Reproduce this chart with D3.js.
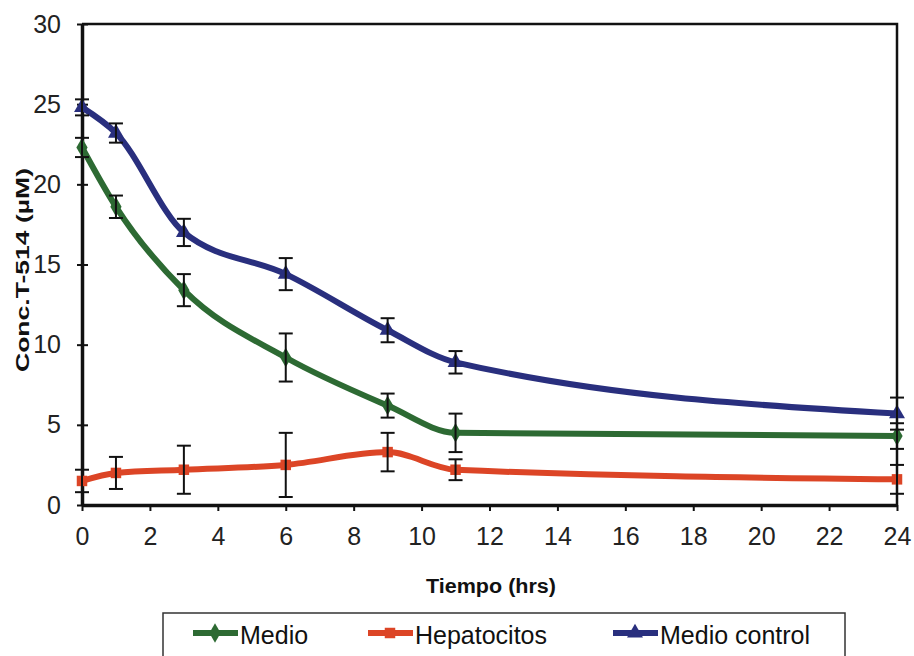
<!DOCTYPE html>
<html>
<head>
<meta charset="utf-8">
<script src="https://cdn.jsdelivr.net/npm/d3@7"></script>
<style>
  body { margin: 0; background: #fff; }
  svg { font-family: "Liberation Sans", Arial, sans-serif; }
  .axis text { font-size: 25px; fill: #222; }
  .axis path, .axis line { stroke: #111; }
</style>
</head>
<body>
<div id="chart"></div>
<script>
// Data
var tiempo = [0, 1, 3, 6, 9, 11, 24];
var medio = [22.3, 18.6, 13.4, 9.2, 6.2, 4.5, 4.3];
var medioErr = [0.6, 0.7, 1.0, 1.5, 0.75, 1.2, 0.8];
var hepatocitos = [1.5, 2.0, 2.2, 2.5, 3.3, 2.2, 1.6];
var hepatocitosErr = [0.7, 1.0, 1.5, 2.0, 1.2, 0.65, 0.9];
var medioControl = [24.8, 23.2, 17.0, 14.4, 10.9, 8.9, 5.7];
var medioControlErr = [0.5, 0.6, 0.85, 1.0, 0.75, 0.7, 1.0];

var seriesNames = ["Medio", "Hepatocitos", "Medio control"];
var xTicks = [0, 2, 4, 6, 8, 10, 12, 14, 16, 18, 20, 22, 24];
var yTicks = [0, 5, 10, 15, 20, 25, 30];

var series = [
  { name: seriesNames[0], values: medio, err: medioErr, color: "#2d6a33", marker: d3.symbolDiamond },
  { name: seriesNames[1], values: hepatocitos, err: hepatocitosErr, color: "#dc4526", marker: d3.symbolSquare },
  { name: seriesNames[2], values: medioControl, err: medioControlErr, color: "#292f7e", marker: d3.symbolTriangle }
];

var width = 914, height = 656;
var plot = { left: 82, right: 897, top: 24, bottom: 505 };

var svg = d3.select("#chart").append("svg")
  .attr("width", width)
  .attr("height", height);

var x = d3.scaleLinear().domain([0, 24]).range([plot.left, plot.right]);
var y = d3.scaleLinear().domain([0, 30]).range([plot.bottom, plot.top]);

// frame: top and right thin lines
svg.append("path")
  .attr("d", "M" + plot.left + "," + plot.top + "H" + plot.right + "V" + plot.bottom)
  .attr("fill", "none")
  .attr("stroke", "#111")
  .attr("stroke-width", 2.5);

// x axis
var xAxis = svg.append("g")
  .attr("class", "axis")
  .attr("transform", "translate(0," + plot.bottom + ")")
  .call(d3.axisBottom(x).tickValues(xTicks).tickSize(6).tickPadding(16).tickSizeOuter(0));
xAxis.select(".domain").attr("stroke-width", 3.5);
xAxis.selectAll(".tick line").attr("stroke-width", 2);

// y axis (ticks cross the axis)
var yAxis = svg.append("g")
  .attr("class", "axis")
  .attr("transform", "translate(" + plot.left + ",0)")
  .call(d3.axisLeft(y).tickValues(yTicks).tickSize(5).tickPadding(16).tickSizeOuter(0));
yAxis.select(".domain").attr("stroke-width", 3.5);
yAxis.selectAll(".tick line").attr("stroke-width", 2).attr("x2", 6).attr("x1", -5);

// axis titles
svg.append("text")
  .attr("x", 491)
  .attr("y", 593)
  .attr("text-anchor", "middle")
  .attr("font-weight", "bold")
  .attr("font-size", 20)
  .attr("textLength", 130)
  .attr("lengthAdjust", "spacingAndGlyphs")
  .attr("fill", "#111")
  .text("Tiempo (hrs)");

svg.append("text")
  .attr("transform", "translate(29,270) rotate(-90)")
  .attr("text-anchor", "middle")
  .attr("font-weight", "bold")
  .attr("font-size", 19)
  .attr("textLength", 204)
  .attr("lengthAdjust", "spacingAndGlyphs")
  .attr("fill", "#111")
  .text("Conc.T-514 (µM)");

var line = d3.line()
  .x(function(d) { return x(d.t); })
  .y(function(d) { return y(d.v); })
  .curve(d3.curveMonotoneX);

function points(s) {
  return tiempo.map(function(t, i) { return { t: t, v: s.values[i], e: s.err[i] }; });
}

var g = svg.append("g");

series.forEach(function(s) {
  var pts = points(s);
  var sg = g.append("g");

  sg.append("path")
    .datum(pts)
    .attr("d", line)
    .attr("fill", "none")
    .attr("stroke", s.color)
    .attr("stroke-width", 6)
    .attr("stroke-linejoin", "round");

  sg.selectAll(".marker")
    .data(pts)
    .enter().append("path")
    .attr("class", "marker")
    .attr("transform", function(d) { return "translate(" + x(d.t) + "," + y(d.v) + ")"; })
    .attr("d", d3.symbol().type(s.marker).size(110))
    .attr("fill", s.color);
});

// error bars on top
series.forEach(function(s) {
  var pts = points(s);
  var eg = g.append("g")
    .attr("stroke", "#111")
    .attr("stroke-width", 2);
  var bars = eg.selectAll(".err").data(pts).enter().append("g");
  bars.append("line")
    .attr("x1", function(d) { return x(d.t); })
    .attr("x2", function(d) { return x(d.t); })
    .attr("y1", function(d) { return y(d.v + d.e); })
    .attr("y2", function(d) { return y(d.v - d.e); });
  bars.append("line")
    .attr("x1", function(d) { return x(d.t) - 7; })
    .attr("x2", function(d) { return x(d.t) + 7; })
    .attr("y1", function(d) { return y(d.v + d.e); })
    .attr("y2", function(d) { return y(d.v + d.e); });
  bars.append("line")
    .attr("x1", function(d) { return x(d.t) - 7; })
    .attr("x2", function(d) { return x(d.t) + 7; })
    .attr("y1", function(d) { return y(d.v - d.e); })
    .attr("y2", function(d) { return y(d.v - d.e); });
});

// legend
var legend = svg.append("g");
legend.append("rect")
  .attr("x", 163)
  .attr("y", 613)
  .attr("width", 682)
  .attr("height", 60)
  .attr("fill", "#fff")
  .attr("stroke", "#333")
  .attr("stroke-width", 1.5);

var legendX = [193, 368, 613];
series.forEach(function(s, i) {
  var lg = legend.append("g").attr("transform", "translate(" + legendX[i] + ",633)");
  lg.append("line")
    .attr("x1", 0).attr("x2", 45)
    .attr("stroke", s.color)
    .attr("stroke-width", 6);
  lg.append("path")
    .attr("transform", "translate(22,0)")
    .attr("d", d3.symbol().type(s.marker).size(110))
    .attr("fill", s.color);
  lg.append("text")
    .attr("x", 47)
    .attr("y", 11)
    .attr("font-size", 25)
    .attr("fill", "#111")
    .text(s.name);
});
</script>
</body>
</html>
